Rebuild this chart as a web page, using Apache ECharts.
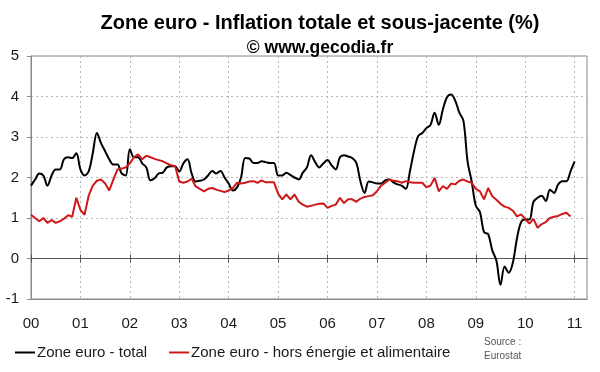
<!DOCTYPE html>
<html><head><meta charset="utf-8">
<script src="https://cdn.jsdelivr.net/npm/echarts@6/dist/echarts.min.js"></script>
<style>html,body{margin:0;padding:0;background:#fff}#c{width:600px;height:372px}</style>
</head><body><div id="c"></div>
<script>
const yearLabels = ['00','01','02','03','04','05','06','07','08','09','10','11'];
const seriesNames = ['Zone euro - total', 'Zone euro - hors énergie et alimentaire'];
// Monthly, Jan 2000 - Jan 2011
const totalValues = [
  1.8, 1.95, 2.1, 2.05, 1.8, 2.05, 2.2, 2.2, 2.45, 2.5, 2.48, 2.6,
  2.2, 2.05, 2.15, 2.6, 3.1, 2.85, 2.65, 2.45, 2.32, 2.32, 2.1, 2.05,
  2.7, 2.5, 2.5, 2.35, 2.25, 1.93, 1.98, 2.1, 2.12, 2.25, 2.28, 2.28,
  2.15, 2.35, 2.45, 2.1, 1.9, 1.92, 1.95, 2.05, 2.16, 2.1, 2.16, 2.0,
  1.85, 1.68, 1.75, 2.0, 2.48, 2.47, 2.36, 2.36, 2.4, 2.38, 2.36, 2.36,
  2.05, 2.05, 2.12, 2.06, 2.0, 1.95, 2.12, 2.25, 2.55, 2.38, 2.25, 2.35,
  2.43, 2.3, 2.2, 2.5, 2.55, 2.52, 2.48, 2.36, 1.9, 1.62, 1.9, 1.88,
  1.85, 1.85, 1.93, 1.95, 1.88, 1.83, 1.8, 1.72, 2.15, 2.65, 3.02, 3.1,
  3.22, 3.3, 3.6, 3.3, 3.68, 3.98, 4.05, 3.9, 3.6, 3.4, 2.4, 1.9,
  1.3, 1.15, 0.65, 0.6, 0.2, -0.05, -0.65, -0.2, -0.35, -0.1, 0.5, 0.9,
  0.96, 0.96, 1.4, 1.5, 1.55, 1.42, 1.7, 1.62, 1.83, 1.91, 1.91, 2.15,
  2.4
];
// Monthly, Jan 2000 - Dec 2010
const coreValues = [
  1.08, 1.0, 0.92, 1.0, 0.88, 0.95, 0.88, 0.92, 0.98, 1.07, 1.03, 1.5,
  1.2, 1.08, 1.55, 1.8, 1.92, 1.95, 1.85, 1.68, 1.95, 2.2, 2.22, 2.25,
  2.35, 2.5, 2.57, 2.45, 2.54, 2.5, 2.46, 2.43, 2.4, 2.35, 2.3, 2.28,
  1.9, 1.87, 1.9, 1.97, 1.78, 1.72, 1.66, 1.72, 1.74, 1.7, 1.67, 1.64,
  1.68, 1.74, 1.87, 1.85, 1.87, 1.9, 1.91, 1.87, 1.93, 1.88, 1.88, 1.88,
  1.6, 1.46, 1.58, 1.46, 1.58, 1.4, 1.33, 1.28, 1.3, 1.33, 1.35, 1.36,
  1.25, 1.3, 1.33, 1.5, 1.37, 1.46, 1.46, 1.4, 1.48, 1.52, 1.54, 1.56,
  1.66, 1.8, 1.87, 1.95, 1.92, 1.91, 1.87, 1.91, 1.88, 1.87, 1.87, 1.87,
  1.76, 1.8, 1.99, 1.66, 1.79, 1.72, 1.85, 1.83, 1.92, 1.95, 1.9, 1.87,
  1.72, 1.66, 1.46, 1.74, 1.54, 1.45, 1.35, 1.28, 1.25, 1.18, 1.04, 1.09,
  0.98, 0.86, 0.98, 0.76, 0.85, 0.9, 1.0, 1.03, 1.05, 1.1, 1.13, 1.04
];

const FONT = 'Arial, "Liberation Sans", sans-serif';
const yearTicks = yearLabels.map((_, i) => i * 12);
const xMax = 135;
const gridColor = '#b8b8b8';
const boxColor = '#8a8a8a';

const chart = echarts.init(document.getElementById('c'), null, {renderer: 'canvas'});
chart.setOption({
  animation: false,
  backgroundColor: '#fff',
  title: [
    {text: 'Zone euro - Inflation totale et sous-jacente (%)', left: 315, top: 8, textAlign: 'center',
     textStyle: {fontSize: 20, fontWeight: 'bold', color: '#000', fontFamily: FONT}},
    {text: '© www.gecodia.fr', left: 315, top: 34, textAlign: 'center',
     textStyle: {fontSize: 17.5, fontWeight: 'bold', color: '#000', fontFamily: FONT}}
  ],
  grid: {left: 31, right: 13, top: 56, bottom: 73, show: true, borderColor: boxColor, borderWidth: 1, containLabel: false},
  legend: {
    left: 10, top: 340, itemWidth: 20, itemHeight: 2, itemGap: 22, icon: 'rect',
    textStyle: {fontSize: 15, color: '#1a1a1a', fontFamily: FONT, padding: [0, 0, 0, -3]},
    data: seriesNames
  },
  xAxis: [
    {type: 'value', min: 0, max: xMax, interval: 12, position: 'bottom',
     axisLine: {onZero: false, lineStyle: {color: boxColor}},
     axisTick: {show: false},
     axisLabel: {customValues: yearTicks, formatter: v => yearLabels[Math.round(v / 12)] || '',
                 fontSize: 15, color: '#1a1a1a', fontFamily: FONT, margin: 17},
     splitLine: {show: true, lineStyle: {color: gridColor, type: [2, 3], width: 1}}},
    {type: 'value', min: 0, max: xMax, interval: 12, position: 'bottom',
     axisLine: {onZero: true, onZeroAxisIndex: 0, lineStyle: {color: '#555', width: 1}},
     axisTick: {show: true, customValues: yearTicks, length: 4, lineStyle: {color: '#555'}},
     axisLabel: {show: false}, splitLine: {show: false}},
    {type: 'value', min: 0, max: xMax, interval: 12, position: 'top',
     axisLine: {onZero: true, onZeroAxisIndex: 0, lineStyle: {color: '#555', width: 1}},
     axisTick: {show: true, customValues: yearTicks, length: 4, lineStyle: {color: '#555'}},
     axisLabel: {show: false}, splitLine: {show: false}}
  ],
  yAxis: {
    type: 'value', min: -1, max: 5, interval: 1,
    axisLine: {show: true, onZero: false, lineStyle: {color: boxColor}},
    axisTick: {show: true, length: 4, lineStyle: {color: boxColor}},
    axisLabel: {fontSize: 15, color: '#1a1a1a', fontFamily: FONT, margin: 12},
    splitLine: {show: true, lineStyle: {color: gridColor, type: [2, 3], width: 1}}
  },
  graphic: [
    {type: 'text', left: 484, top: 335,
     style: {text: 'Source :\nEurostat', fontSize: 10, lineHeight: 14, fill: '#555', fontFamily: FONT}}
  ],
  series: [
    {name: seriesNames[0], type: 'line', xAxisIndex: 0, showSymbol: false, smooth: 0.35,
     data: totalValues.map((v, i) => [i, v]),
     lineStyle: {color: '#000', width: 2}, itemStyle: {color: '#000'}, z: 3},
    {name: seriesNames[1], type: 'line', xAxisIndex: 0, showSymbol: false,
     data: coreValues.map((v, i) => [i, v]),
     lineStyle: {color: '#d0181a', width: 2}, itemStyle: {color: '#d0181a'}, z: 4}
  ]
});
</script></body></html>
